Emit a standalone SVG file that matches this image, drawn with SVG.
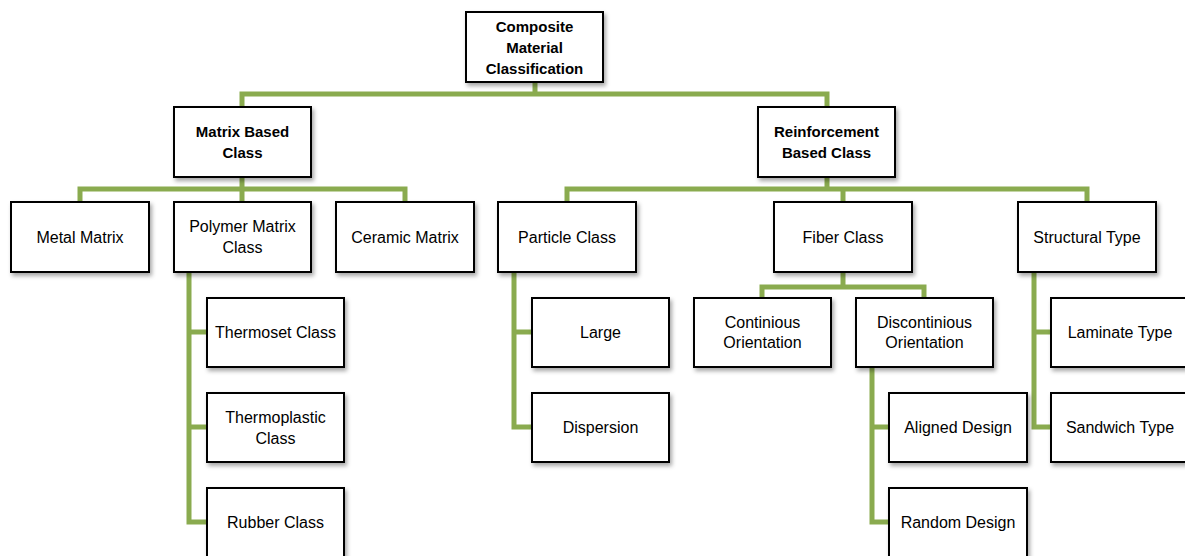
<svg xmlns="http://www.w3.org/2000/svg" width="1185" height="556" viewBox="0 0 1185 556">
<defs>
<filter id="sh" x="-10%" y="-10%" width="130%" height="140%">
<feDropShadow dx="2" dy="3" stdDeviation="2" flood-color="#000" flood-opacity="0.35"/>
</filter>
</defs>
<style>
.box{fill:#fff;stroke:#000;stroke-width:2;filter:url(#sh)}
.t{font-family:"Liberation Sans",Arial,sans-serif;font-size:16px;fill:#000;text-anchor:middle;dominant-baseline:central}
.b{font-weight:bold;font-size:15px}
.c{fill:none;stroke:#8AAB4F;stroke-width:5;stroke-linejoin:miter;stroke-linecap:butt}
</style>
<rect width="1185" height="556" fill="#fff"/>
<g id="connectors">
<path class="c" d="M535 82V94M242 107V94H827V107"/>
<path class="c" d="M242 177V189M80 202V189H405V202M242 189V202"/>
<path class="c" d="M827 177V189M567 202V189H1087V202M843 189V202"/>
<path class="c" d="M189 272V522H207M189 332H207M189 427H207"/>
<path class="c" d="M514 272V427H532M514 332H532"/>
<path class="c" d="M843 272V287M762 298V287H924V298"/>
<path class="c" d="M872 368V522H889M872 427H889"/>
<path class="c" d="M1034 272V427H1051M1034 332H1051"/>
</g>
<g id="n-root"><rect class="box" x="466" y="12" width="137" height="70"/><text class="t b" x="534.5" y="26">Composite</text><text class="t b" x="534.5" y="47">Material</text><text class="t b" x="534.5" y="68">Classification</text></g>
<g id="n-matrix"><rect class="box" x="174" y="107" width="137" height="70"/><text class="t b" x="242.5" y="131">Matrix Based</text><text class="t b" x="242.5" y="152">Class</text></g>
<g id="n-reinf"><rect class="box" x="758" y="107" width="137" height="70"/><text class="t b" x="826.5" y="131">Reinforcement</text><text class="t b" x="826.5" y="152">Based Class</text></g>
<g id="n-metal"><rect class="box" x="11" y="202" width="138" height="70"/><text class="t" x="80" y="237">Metal Matrix</text></g>
<g id="n-polymer"><rect class="box" x="174" y="202" width="137" height="70"/><text class="t" x="242.5" y="226">Polymer Matrix</text><text class="t" x="242.5" y="247">Class</text></g>
<g id="n-ceramic"><rect class="box" x="336" y="202" width="138" height="70"/><text class="t" x="405" y="237">Ceramic Matrix</text></g>
<g id="n-particle"><rect class="box" x="498" y="202" width="138" height="70"/><text class="t" x="567" y="237">Particle Class</text></g>
<g id="n-fiber"><rect class="box" x="774" y="202" width="138" height="70"/><text class="t" x="843" y="237">Fiber Class</text></g>
<g id="n-structural"><rect class="box" x="1018" y="202" width="138" height="70"/><text class="t" x="1087" y="237">Structural Type</text></g>
<g id="n-thermoset"><rect class="box" x="207" y="298" width="137" height="69"/><text class="t" x="275.5" y="332">Thermoset Class</text></g>
<g id="n-thermoplastic"><rect class="box" x="207" y="393" width="137" height="69"/><text class="t" x="275.5" y="417">Thermoplastic</text><text class="t" x="275.5" y="438">Class</text></g>
<g id="n-rubber"><rect class="box" x="207" y="488" width="137" height="69"/><text class="t" x="275.5" y="522">Rubber Class</text></g>
<g id="n-large"><rect class="box" x="532" y="298" width="137" height="69"/><text class="t" x="600.5" y="332">Large</text></g>
<g id="n-dispersion"><rect class="box" x="532" y="393" width="137" height="69"/><text class="t" x="600.5" y="427">Dispersion</text></g>
<g id="n-continious"><rect class="box" x="694" y="298" width="137" height="69"/><text class="t" x="762.5" y="322">Continious</text><text class="t" x="762.5" y="342">Orientation</text></g>
<g id="n-discontinious"><rect class="box" x="856" y="298" width="137" height="69"/><text class="t" x="924.5" y="322">Discontinious</text><text class="t" x="924.5" y="342">Orientation</text></g>
<g id="n-aligned"><rect class="box" x="889" y="393" width="138" height="69"/><text class="t" x="958" y="427">Aligned Design</text></g>
<g id="n-random"><rect class="box" x="889" y="488" width="138" height="69"/><text class="t" x="958" y="522">Random Design</text></g>
<g id="n-laminate"><rect class="box" x="1051" y="298" width="138" height="69"/><text class="t" x="1120" y="332">Laminate Type</text></g>
<g id="n-sandwich"><rect class="box" x="1051" y="393" width="138" height="69"/><text class="t" x="1120" y="427">Sandwich Type</text></g>
</svg>
